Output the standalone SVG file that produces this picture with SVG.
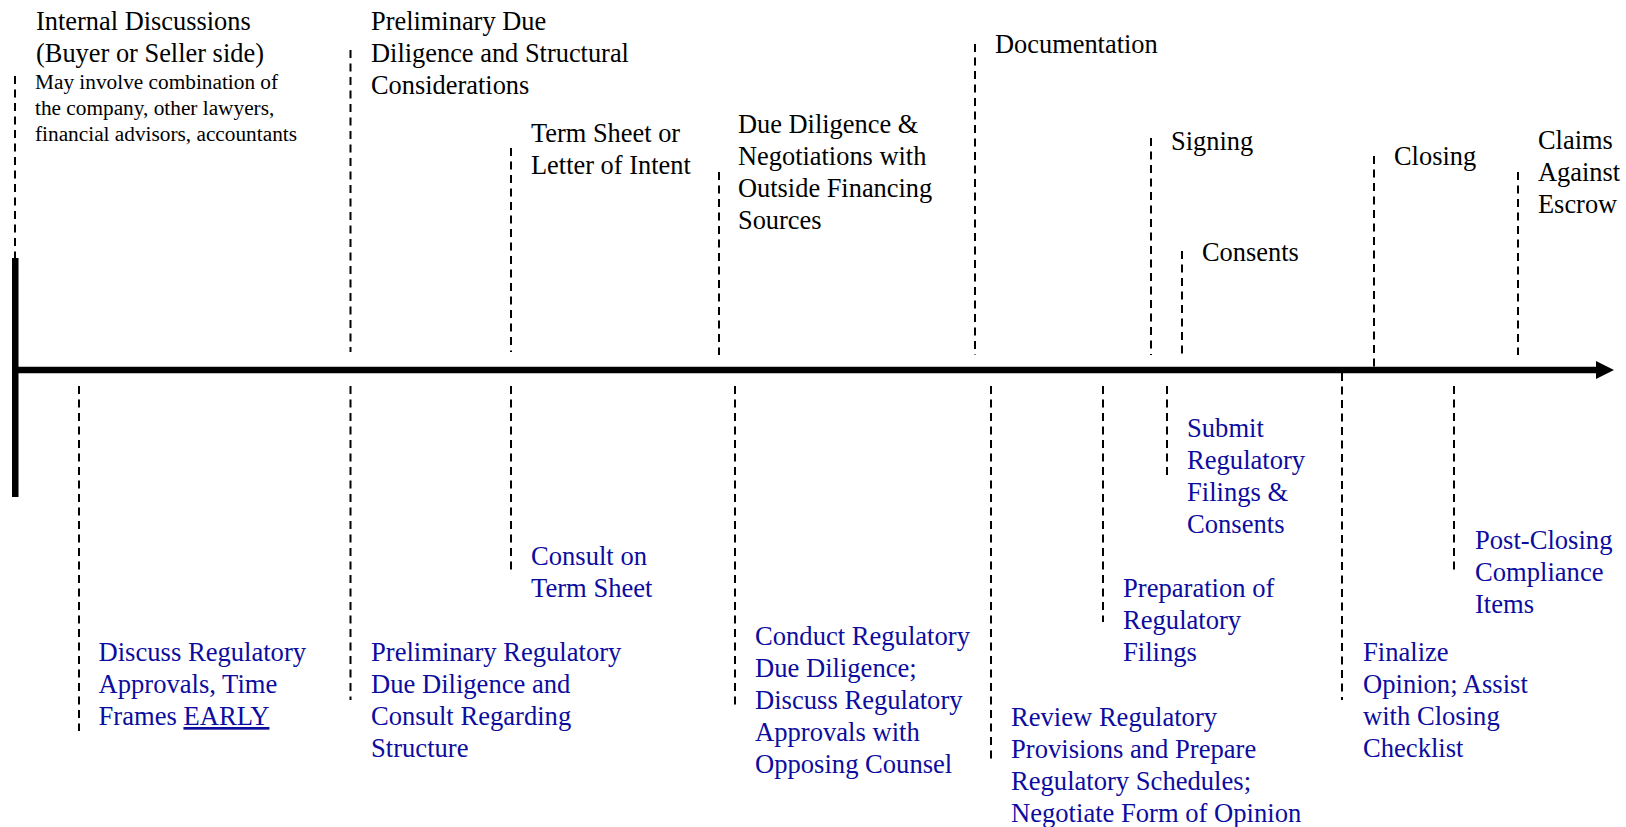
<svg xmlns="http://www.w3.org/2000/svg" width="1626" height="827" viewBox="0 0 1626 827">
<style>
text { font-family: "Liberation Serif", "Times New Roman", serif; font-size: 26.4px; }
.hd { fill: #000000; }
.sm { fill: #000000; font-size: 21.3px; }
.bl { fill: #0c0c9e; font-size: 26.6px; }
.dash { stroke: #000000; stroke-width: 2; stroke-dasharray: 8 5.5; fill: none; }
</style>
<rect width="1626" height="827" fill="#ffffff"/>
<g id="timeline">
  <rect x="12" y="258" width="6.5" height="239" fill="#000000"/>
  <line x1="15" y1="370" x2="1598" y2="370" stroke="#000000" stroke-width="6.5"/>
  <polygon points="1596,361 1614,370 1596,379" fill="#000000"/>
</g>
<g id="connectors">
  <line class="dash" x1="15" y1="76" x2="15" y2="258"/>
  <line class="dash" x1="350.5" y1="50" x2="350.5" y2="352"/>
  <line class="dash" x1="511" y1="148" x2="511" y2="352"/>
  <line class="dash" x1="719" y1="172" x2="719" y2="355"/>
  <line class="dash" x1="975" y1="44" x2="975" y2="355"/>
  <line class="dash" x1="1151" y1="138" x2="1151" y2="355"/>
  <line class="dash" x1="1182" y1="251" x2="1182" y2="355"/>
  <line class="dash" x1="1374" y1="156" x2="1374" y2="367"/>
  <line class="dash" x1="1518" y1="172" x2="1518" y2="355"/>
  <line class="dash" x1="79" y1="386" x2="79" y2="731"/>
  <line class="dash" x1="350.5" y1="386" x2="350.5" y2="700"/>
  <line class="dash" x1="511" y1="386" x2="511" y2="572"/>
  <line class="dash" x1="735" y1="386" x2="735" y2="707"/>
  <line class="dash" x1="991" y1="386" x2="991" y2="762"/>
  <line class="dash" x1="1103" y1="386" x2="1103" y2="622"/>
  <line class="dash" x1="1167" y1="386" x2="1167" y2="479"/>
  <line class="dash" x1="1342" y1="373" x2="1342" y2="700"/>
  <line class="dash" x1="1454" y1="386" x2="1454" y2="574"/>
</g>
<g id="internal-discussions">
  <text class="hd"><tspan x="36" y="30">Internal Discussions</tspan><tspan x="36" y="62">(Buyer or Seller side)</tspan></text>
  <text class="sm"><tspan x="35" y="89">May involve combination of</tspan><tspan x="35" y="115">the company, other lawyers,</tspan><tspan x="35" y="141">financial advisors, accountants</tspan></text>
</g>
<g id="preliminary-due-diligence">
  <text class="hd"><tspan x="371" y="30">Preliminary Due</tspan><tspan x="371" y="62">Diligence and Structural</tspan><tspan x="371" y="94">Considerations</tspan></text>
</g>
<g id="term-sheet">
  <text class="hd"><tspan x="531" y="142">Term Sheet or</tspan><tspan x="531" y="174">Letter of Intent</tspan></text>
</g>
<g id="due-diligence-financing">
  <text class="hd"><tspan x="738" y="133">Due Diligence &amp;</tspan><tspan x="738" y="165">Negotiations with</tspan><tspan x="738" y="197">Outside Financing</tspan><tspan x="738" y="229">Sources</tspan></text>
</g>
<g id="documentation">
  <text class="hd" x="995" y="53">Documentation</text>
</g>
<g id="signing">
  <text class="hd" x="1171" y="150">Signing</text>
</g>
<g id="consents">
  <text class="hd" x="1202" y="261">Consents</text>
</g>
<g id="closing">
  <text class="hd" x="1394" y="165">Closing</text>
</g>
<g id="claims-against-escrow">
  <text class="hd"><tspan x="1538" y="149">Claims</tspan><tspan x="1538" y="181">Against</tspan><tspan x="1538" y="213">Escrow</tspan></text>
</g>
<g id="discuss-regulatory">
  <text class="bl"><tspan x="98.5" y="661">Discuss Regulatory</tspan><tspan x="98.5" y="693">Approvals, Time</tspan><tspan x="98.5" y="725">Frames </tspan><tspan text-decoration="underline">EARLY</tspan></text>
</g>
<g id="preliminary-regulatory">
  <text class="bl"><tspan x="371" y="661">Preliminary Regulatory</tspan><tspan x="371" y="693">Due Diligence and</tspan><tspan x="371" y="725">Consult Regarding</tspan><tspan x="371" y="757">Structure</tspan></text>
</g>
<g id="consult-term-sheet">
  <text class="bl"><tspan x="531" y="565">Consult on</tspan><tspan x="531" y="597">Term Sheet</tspan></text>
</g>
<g id="conduct-regulatory">
  <text class="bl"><tspan x="755" y="645">Conduct Regulatory</tspan><tspan x="755" y="677">Due Diligence;</tspan><tspan x="755" y="709">Discuss Regulatory</tspan><tspan x="755" y="741">Approvals with</tspan><tspan x="755" y="773">Opposing Counsel</tspan></text>
</g>
<g id="review-regulatory">
  <text class="bl"><tspan x="1011" y="726">Review Regulatory</tspan><tspan x="1011" y="758">Provisions and Prepare</tspan><tspan x="1011" y="790">Regulatory Schedules;</tspan><tspan x="1011" y="822">Negotiate Form of Opinion</tspan></text>
</g>
<g id="preparation-filings">
  <text class="bl"><tspan x="1123" y="597">Preparation of</tspan><tspan x="1123" y="629">Regulatory</tspan><tspan x="1123" y="661">Filings</tspan></text>
</g>
<g id="submit-filings">
  <text class="bl"><tspan x="1187" y="437">Submit</tspan><tspan x="1187" y="469">Regulatory</tspan><tspan x="1187" y="501">Filings &amp;</tspan><tspan x="1187" y="533">Consents</tspan></text>
</g>
<g id="finalize-opinion">
  <text class="bl"><tspan x="1363" y="661">Finalize</tspan><tspan x="1363" y="693">Opinion; Assist</tspan><tspan x="1363" y="725">with Closing</tspan><tspan x="1363" y="757">Checklist</tspan></text>
</g>
<g id="post-closing">
  <text class="bl"><tspan x="1475" y="549">Post-Closing</tspan><tspan x="1475" y="581">Compliance</tspan><tspan x="1475" y="613">Items</tspan></text>
</g>
</svg>
